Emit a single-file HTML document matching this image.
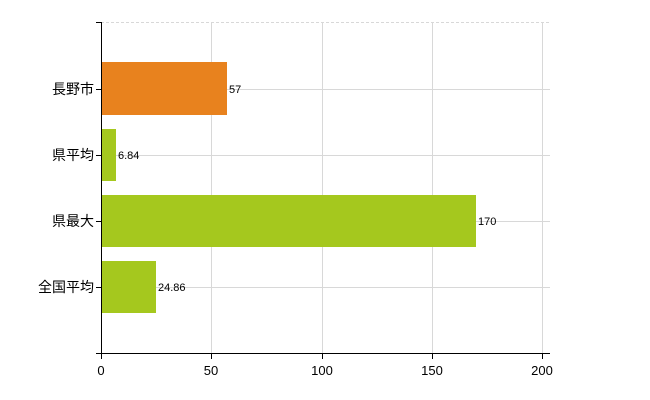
<!DOCTYPE html><html><head><style>body{margin:0;background:#fff}svg{display:block}text{font-family:"Liberation Sans","Noto Sans CJK JP",sans-serif}</style></head><body>
<svg width="650" height="400" xmlns="http://www.w3.org/2000/svg">
<g stroke="#d8d8d8" stroke-width="1">
<line x1="101" y1="22.5" x2="550" y2="22.5" stroke-dasharray="3,2"/>
<line x1="211.5" y1="22" x2="211.5" y2="354"/><line x1="322.5" y1="22" x2="322.5" y2="354"/><line x1="432.5" y1="22" x2="432.5" y2="354"/><line x1="542.5" y1="22" x2="542.5" y2="354"/>
<line x1="101" y1="89.5" x2="550" y2="89.5"/><line x1="101" y1="155.5" x2="550" y2="155.5"/><line x1="101" y1="221.5" x2="550" y2="221.5"/><line x1="101" y1="287.5" x2="550" y2="287.5"/>
</g>
<rect x="101" y="62" width="126" height="53" fill="#E8821E"/>
<rect x="101" y="129" width="15" height="52" fill="#A5C81E"/>
<rect x="101" y="195" width="375" height="52" fill="#A5C81E"/>
<rect x="101" y="261" width="55" height="52" fill="#A5C81E"/>
<g stroke="#000" stroke-width="1">
<line x1="101.5" y1="22" x2="101.5" y2="354"/><line x1="96" y1="353.5" x2="550" y2="353.5"/>
<line x1="96" y1="22.5" x2="101" y2="22.5"/><line x1="96" y1="89.5" x2="101" y2="89.5"/><line x1="96" y1="155.5" x2="101" y2="155.5"/><line x1="96" y1="221.5" x2="101" y2="221.5"/><line x1="96" y1="287.5" x2="101" y2="287.5"/>
<line x1="101.5" y1="354" x2="101.5" y2="359"/><line x1="211.5" y1="354" x2="211.5" y2="359"/><line x1="322.5" y1="354" x2="322.5" y2="359"/><line x1="432.5" y1="354" x2="432.5" y2="359"/><line x1="542.5" y1="354" x2="542.5" y2="359"/>
</g>
<g font-size="14" text-anchor="end" fill="#000">
<text x="94" y="94">長野市</text><text x="94" y="160">県平均</text><text x="94" y="226">県最大</text><text x="94" y="292">全国平均</text>
</g>
<g font-size="11" fill="#000">
<text x="229" y="93">57</text><text x="118" y="159">6.84</text><text x="478" y="225">170</text><text x="158" y="291">24.86</text>
</g>
<g font-size="13" text-anchor="middle" fill="#000">
<text x="101" y="375">0</text><text x="211" y="375">50</text><text x="322" y="375">100</text><text x="432" y="375">150</text><text x="542" y="375">200</text>
</g>
</svg></body></html>
